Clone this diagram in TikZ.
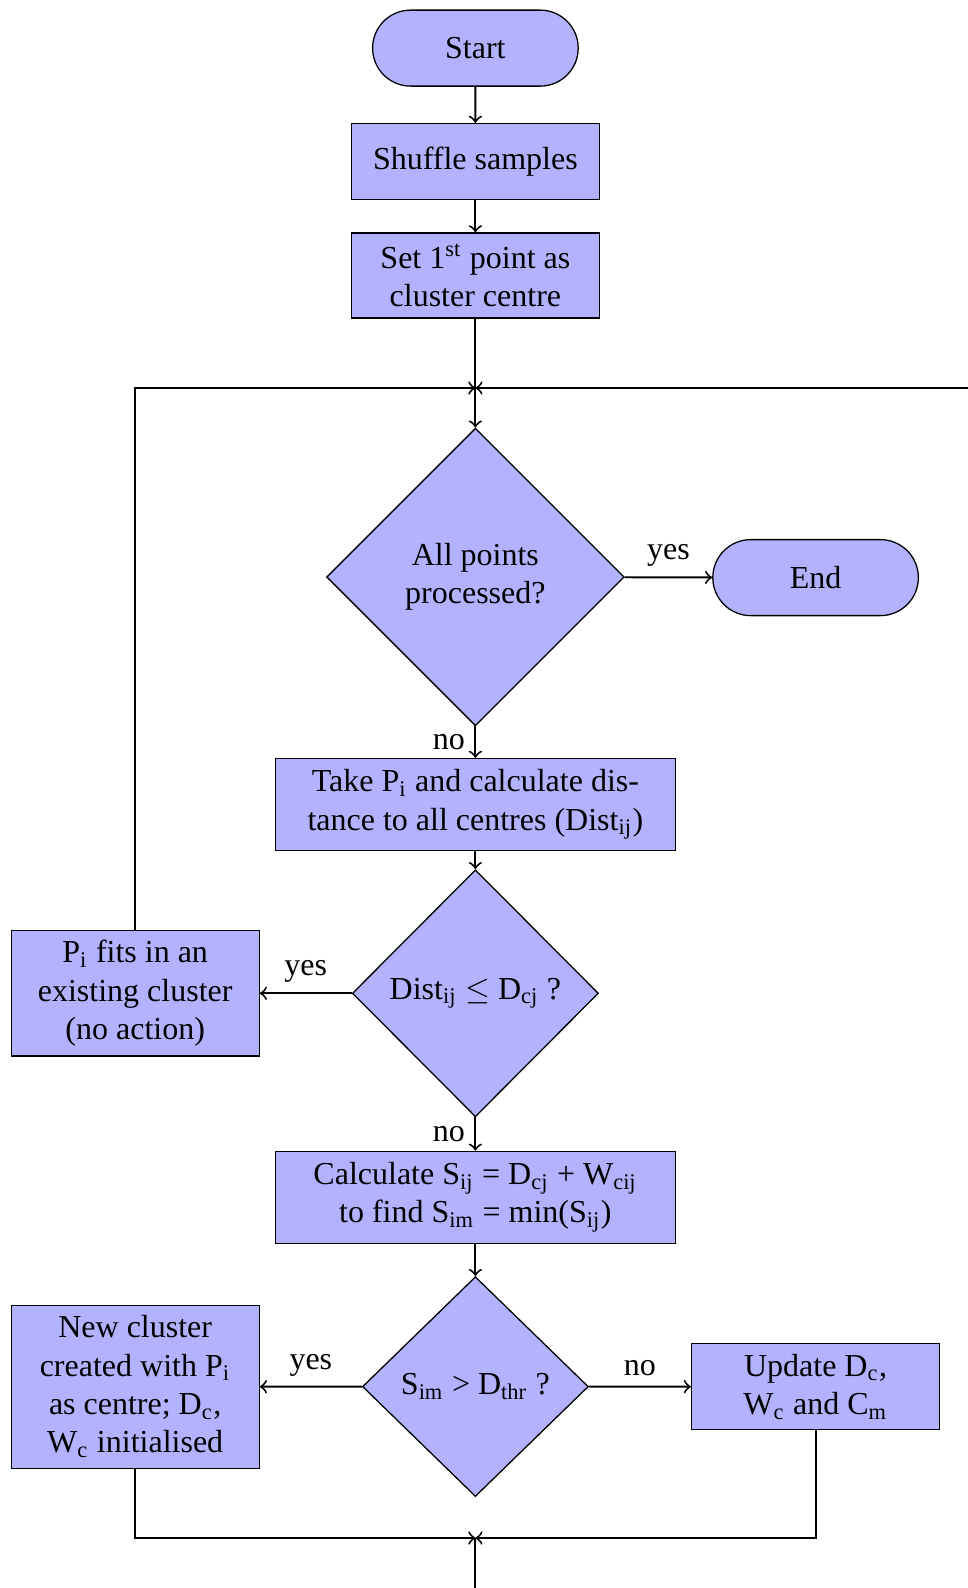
\documentclass[tikz,border=0pt]{standalone}
\usepackage{fontspec}
\setmainfont{Liberation Serif}
\usetikzlibrary{shapes.geometric,shapes.misc}
\begin{document}
\begin{tikzpicture}[x=0.3125pt,y=-0.3125pt,
  box/.style={rectangle,draw,fill=blue!30,align=center,inner sep=0pt,minimum width=77.5pt},
  term/.style={rounded rectangle,draw,fill=blue!30,inner sep=0pt,minimum width=64.25pt,minimum height=23.75pt},
  dec/.style={diamond,draw,fill=blue!30,align=center,inner sep=0pt,aspect=1},
  line/.style={semithick},
  arr/.style={semithick,->},
  lbl/.style={inner sep=3pt}]
\useasboundingbox (0,0) rectangle (968,1588);
\node[term] (start) at (475.4,48.1) {Start};
\node[box,minimum height=23.75pt] (shuffle) at (475.4,161.5) {Shuffle samples};
\node[box,minimum height=26.6pt] (set) at (475.4,275.5) {Set 1\textsuperscript{st} point as\\cluster centre};
\coordinate (jtop) at (475.4,388);
\coordinate (rin) at (968,388);
\node[dec,minimum width=93pt,minimum height=93pt] (d1) at (475.4,577) {All points\\processed?};
\node[term] (end) at (815.6,577.6) {End};
\node[box,minimum width=125pt,minimum height=28.75pt] (take) at (475.4,804.5) {Take P\textsubscript{i} and calculate dis-\\tance to all centres (Dist\textsubscript{ij})};
\node[dec,minimum width=76.9pt,minimum height=77.2pt] (d2) at (475.4,993.3) {Dist\textsubscript{ij} $\leq$ D\textsubscript{cj} ?};
\node[box,minimum height=39.25pt] (fits) at (135.2,993.3) {P\textsubscript{i} fits in an\\existing cluster\\(no action)};
\node[box,minimum width=125pt,minimum height=28.75pt] (calc) at (475.4,1197.3) {Calculate S\textsubscript{ij} = D\textsubscript{cj} + W\textsubscript{cij}\\to find S\textsubscript{im} = min(S\textsubscript{ij})};
\node[dec,minimum width=70.6pt,minimum height=68.7pt] (d3) at (475.4,1386.6) {S\textsubscript{im} > D\textsubscript{thr} ?};
\node[box,minimum height=50.9pt] (new) at (135.2,1386.7) {New cluster\\created with P\textsubscript{i}\\as centre; D\textsubscript{c},\\W\textsubscript{c} initialised};
\node[box,minimum height=26.9pt] (upd) at (815.6,1386.7) {Update D\textsubscript{c},\\W\textsubscript{c} and C\textsubscript{m}};
\coordinate (jbot) at (475.4,1538);
\coordinate (bout) at (475.4,1588);
\draw[arr] (start) -- (shuffle);
\draw[arr] (shuffle) -- (set);
\draw[line] (set) -- (jtop);
\draw[arr] (jtop) -- (d1);
\draw[arr] (fits.north) |- (jtop);
\draw[arr] (rin) -- (jtop);
\draw[arr] (d1) -- node[lbl,above] (l1) {yes} (end);
\draw[arr] (d1) -- node[lbl,left] (l2) {no} (take);
\draw[arr] (take) -- (d2);
\draw[arr] (d2) -- node[lbl,above] (l3) {yes} (fits);
\draw[arr] (d2) -- node[lbl,left] (l4) {no} (calc);
\draw[arr] (calc) -- (d3);
\draw[arr] (d3) -- node[lbl,above] (l5) {yes} (new);
\draw[arr] (d3) -- node[lbl,above] (l6) {no} (upd);
\draw[arr] (new) |- (jbot);
\draw[arr] (upd) |- (jbot);
\draw[line] (jbot) -- (bout);
\end{tikzpicture}
\end{document}
